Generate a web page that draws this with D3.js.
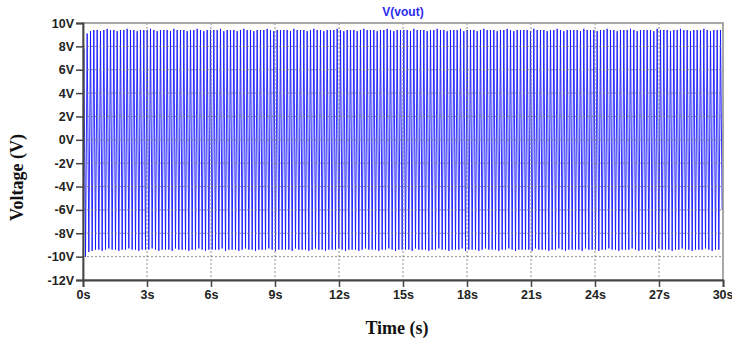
<!DOCTYPE html>
<html>
<head>
<meta charset="utf-8">
<script src="https://cdn.jsdelivr.net/npm/d3@7"></script>
<style>
  html, body { margin: 0; padding: 0; background: #fff; }
  svg { display: block; }
</style>
</head>
<body>
<svg id="chart"></svg>
<script>
// ─── Data ─────────────────────────────────────────────────────────────────
const SERIES_NAME = "V(vout)";
const T_END = 30;                                   // s
const xTicks = [0, 3, 6, 9, 12, 15, 18, 21, 24, 27, 30];
const yTicks = [-12, -10, -8, -6, -4, -2, 0, 2, 4, 6, 8, 10];

// Positive peak of each cycle (V)
const highs = [
  7.8, 9.1, 9.3, 9.4, 9.4, 9.3, 9.4, 9.5, 9.4, 9.4, 9.3, 9.4, 9.4, 9.5, 9.4, 9.4,
  9.3, 9.4, 9.4, 9.4, 9.5, 9.4, 9.3, 9.4, 9.4, 9.4, 9.3, 9.5, 9.4, 9.4, 9.4, 9.3,
  9.4, 9.4, 9.5, 9.4, 9.3, 9.4, 9.4, 9.4, 9.4, 9.5, 9.3, 9.4, 9.4, 9.4, 9.3, 9.4,
  9.5, 9.4, 9.4, 9.3, 9.4, 9.4, 9.4, 9.5, 9.4, 9.3, 9.4, 9.4, 9.4, 9.4, 9.3, 9.5,
  9.4, 9.4, 9.4, 9.3, 9.4, 9.5, 9.4, 9.4, 9.3, 9.4, 9.4, 9.4, 9.5, 9.4, 9.3, 9.4,
  9.4, 9.4, 9.3, 9.4, 9.5, 9.4, 9.4, 9.4, 9.3, 9.4, 9.4, 9.5, 9.4, 9.3, 9.4, 9.4,
  9.4, 9.4, 9.3, 9.5, 9.4, 9.4, 9.4, 9.3, 9.4, 9.4, 9.5, 9.4, 9.4, 9.3, 9.4, 9.4,
  9.4, 9.5, 9.3, 9.4, 9.4, 9.4, 9.3, 9.4, 9.5, 9.4, 9.4, 9.4, 9.3, 9.4, 9.4, 9.5,
  9.4, 9.3, 9.4, 9.4, 9.4, 9.4, 9.3, 9.5, 9.4, 9.4, 9.4, 9.3, 9.4, 9.4, 9.5, 9.4,
  9.3, 9.4, 9.4, 9.4, 9.4, 9.3, 9.5, 9.4, 9.4, 9.4, 9.3, 9.4, 9.4, 9.5, 9.4, 9.4,
  9.3, 9.4, 9.4, 9.4, 9.5, 9.4, 9.3, 9.4, 9.4, 9.4, 9.4, 9.3, 9.5, 9.4, 9.4, 9.4,
  9.3, 9.4, 9.4, 9.5, 9.4, 9.4, 9.3, 9.4, 9.4, 9.4, 9.5, 9.4, 9.3, 9.4, 9.4, 9.4
];

// Negative peak of each cycle (V)
const lows = [
  -10.0, -9.6, -9.5, -9.4, -9.4, -9.5, -9.4, -9.3, -9.4, -9.4, -9.5, -9.4, -9.4, -9.3, -9.4, -9.4,
  -9.5, -9.4, -9.4, -9.4, -9.3, -9.4, -9.5, -9.4, -9.4, -9.4, -9.5, -9.3, -9.4, -9.4, -9.4, -9.5,
  -9.4, -9.4, -9.3, -9.4, -9.5, -9.4, -9.4, -9.4, -9.4, -9.3, -9.5, -9.4, -9.4, -9.4, -9.5, -9.4,
  -9.3, -9.4, -9.4, -9.5, -9.4, -9.4, -9.4, -9.3, -9.4, -9.5, -9.4, -9.4, -9.4, -9.4, -9.5, -9.3,
  -9.4, -9.4, -9.4, -9.5, -9.4, -9.3, -9.4, -9.4, -9.5, -9.4, -9.4, -9.4, -9.3, -9.4, -9.5, -9.4,
  -9.4, -9.4, -9.5, -9.4, -9.3, -9.4, -9.4, -9.4, -9.5, -9.4, -9.4, -9.3, -9.4, -9.5, -9.4, -9.4,
  -9.4, -9.4, -9.5, -9.3, -9.4, -9.4, -9.4, -9.5, -9.4, -9.4, -9.3, -9.4, -9.4, -9.5, -9.4, -9.4,
  -9.4, -9.3, -9.5, -9.4, -9.4, -9.4, -9.5, -9.4, -9.3, -9.4, -9.4, -9.4, -9.5, -9.4, -9.4, -9.3,
  -9.4, -9.5, -9.4, -9.4, -9.4, -9.4, -9.5, -9.3, -9.4, -9.4, -9.4, -9.5, -9.4, -9.4, -9.3, -9.4,
  -9.5, -9.4, -9.4, -9.4, -9.4, -9.5, -9.3, -9.4, -9.4, -9.4, -9.5, -9.4, -9.4, -9.3, -9.4, -9.4,
  -9.5, -9.4, -9.4, -9.4, -9.3, -9.4, -9.5, -9.4, -9.4, -9.4, -9.4, -9.5, -9.3, -9.4, -9.4, -9.4,
  -9.5, -9.4, -9.4, -9.3, -9.4, -9.4, -9.5, -9.4, -9.4, -9.4, -9.3, -9.4, -9.5, -9.4, -9.4, -6.0
];

// ─── Layout ────────────────────────────────────────────────────────────────
const W = 732;
const H = 340;
const MARGIN = { top: 23, right: 9, bottom: 60, left: 83 };
const innerW = W - MARGIN.left - MARGIN.right;
const innerH = H - MARGIN.top - MARGIN.bottom;

const TICK_FONT = "'Liberation Sans', Arial, sans-serif";
const LABEL_FONT = "'Liberation Serif', 'Times New Roman', serif";

// ─── Scales ────────────────────────────────────────────────────────────────
const x = d3.scaleLinear().domain([0, T_END]).range([0, innerW]);
const y = d3.scaleLinear().domain([-12, 10]).range([innerH, 0]);

// zig-zag through the per-cycle peaks, evenly spaced in time
const nCycles = highs.length;
const halfPeriod = T_END / (2 * nCycles);
const points = [{ t: 0, v: 0 }];
highs.forEach((h, i) => {
  points.push({ t: (2 * i + 0.5) * halfPeriod, v: h });
  points.push({ t: (2 * i + 1.5) * halfPeriod, v: lows[i] });
});

// ─── SVG ───────────────────────────────────────────────────────────────────
const svg = d3.select("#chart").attr("width", W).attr("height", H);
const g = svg.append("g").attr("transform", `translate(${MARGIN.left},${MARGIN.top})`);

svg.append("defs").append("clipPath").attr("id", "plotClip")
  .append("rect").attr("width", innerW).attr("height", innerH);

// ── Trace (grid is drawn over it, like in LTspice) ─────────────────────────
const line = d3.line().x(d => x(d.t)).y(d => y(d.v));
g.append("path")
  .attr("clip-path", "url(#plotClip)")
  .datum(points)
  .attr("d", line)
  .attr("fill", "none")
  .attr("stroke", "#1010ff")
  .attr("stroke-opacity", 0.88)
  .attr("stroke-width", 1);

// ── Grid (on top of the trace) ─────────────────────────────────────────────
g.append("g").selectAll("line").data(yTicks.filter(d => d > -12 && d < 10)).join("line")
  .attr("x1", 0).attr("x2", innerW)
  .attr("y1", d => y(d)).attr("y2", d => y(d))
  .attr("stroke", "#777").attr("stroke-opacity", 0.8)
  .attr("stroke-width", 1).attr("stroke-dasharray", "2,2");

g.append("g").selectAll("line").data(xTicks.filter(d => d > 0 && d < T_END)).join("line")
  .attr("x1", d => x(d)).attr("x2", d => x(d))
  .attr("y1", 0).attr("y2", innerH)
  .attr("stroke", "#777").attr("stroke-opacity", 0.8)
  .attr("stroke-width", 1).attr("stroke-dasharray", "2,2");

// ── Frame ──────────────────────────────────────────────────────────────────
g.append("rect")
  .attr("width", innerW).attr("height", innerH)
  .attr("fill", "none").attr("stroke", "#8c8c8c").attr("stroke-width", 1.5);

// ── Axes ───────────────────────────────────────────────────────────────────
const yAxis = g.append("g")
  .call(d3.axisLeft(y).tickValues(yTicks).tickSize(7).tickPadding(2).tickFormat(d => `${d}V`));
const xAxis = g.append("g").attr("transform", `translate(0,${innerH})`)
  .call(d3.axisBottom(x).tickValues(xTicks).tickSize(7).tickPadding(3).tickFormat(d => `${d}s`));

[yAxis, xAxis].forEach(ax => {
  ax.select(".domain").attr("stroke", "#444").attr("stroke-width", 1.8);
  ax.selectAll(".tick line").attr("stroke", "#444").attr("stroke-width", 1.5);
  ax.selectAll(".tick text")
    .attr("font-family", TICK_FONT).attr("font-size", "12.5px")
    .attr("font-weight", "bold").attr("fill", "#222");
});
// last x label hugs the right edge, as in the reference
xAxis.selectAll(".tick text").filter(d => d === T_END).attr("text-anchor", "end").attr("dx", "10px");

// ── Titles ─────────────────────────────────────────────────────────────────
svg.append("text")
  .attr("x", MARGIN.left + innerW / 2).attr("y", 16)
  .attr("text-anchor", "middle")
  .attr("font-family", TICK_FONT).attr("font-size", "12px").attr("font-weight", "bold")
  .attr("fill", "#2a2aee")
  .text(SERIES_NAME);

svg.append("text")
  .attr("x", MARGIN.left + innerW / 2 - 6).attr("y", 334)
  .attr("text-anchor", "middle")
  .attr("font-family", LABEL_FONT).attr("font-size", "18px").attr("font-weight", "bold")
  .attr("fill", "#111")
  .text("Time (s)");

svg.append("text")
  .attr("transform", `translate(23,${MARGIN.top + innerH / 2 + 26}) rotate(-90)`)
  .attr("text-anchor", "middle")
  .attr("font-family", LABEL_FONT).attr("font-size", "18px").attr("font-weight", "bold")
  .attr("fill", "#111")
  .text("Voltage (V)");
</script>
</body>
</html>
